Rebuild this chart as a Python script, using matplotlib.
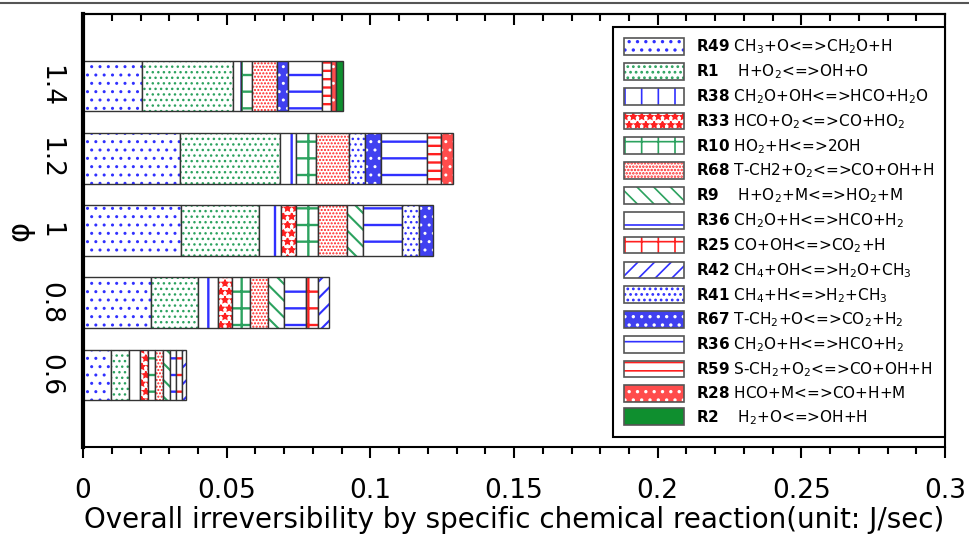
import numpy as np
import matplotlib.pyplot as plt
import matplotlib.patches as mpatches
from matplotlib.legend_handler import HandlerTuple

plt.rcParams['font.family'] = ['DejaVu Sans']
plt.rcParams['mathtext.fontset'] = 'dejavusans'
plt.rcParams['hatch.linewidth'] = 1.2

# equivalence ratio (bottom to top)
phi = ['0.6', '0.8', '1', '1.2', '1.4']

labels = [
    r"$\mathbf{R49}$ CH$_3$+O<=>CH$_2$O+H",
    r"$\mathbf{R1}$    H+O$_2$<=>OH+O",
    r"$\mathbf{R38}$ CH$_2$O+OH<=>HCO+H$_2$O",
    r"$\mathbf{R33}$ HCO+O$_2$<=>CO+HO$_2$",
    r"$\mathbf{R10}$ HO$_2$+H<=>2OH",
    r"$\mathbf{R68}$ T-CH2+O$_2$<=>CO+OH+H",
    r"$\mathbf{R9}$    H+O$_2$+M<=>HO$_2$+M",
    r"$\mathbf{R36}$ CH$_2$O+H<=>HCO+H$_2$",
    r"$\mathbf{R25}$ CO+OH<=>CO$_2$+H",
    r"$\mathbf{R42}$ CH$_4$+OH<=>H$_2$O+CH$_3$",
    r"$\mathbf{R41}$ CH$_4$+H<=>H$_2$+CH$_3$",
    r"$\mathbf{R67}$ T-CH$_2$+O<=>CO$_2$+H$_2$",
    r"$\mathbf{R36}$ CH$_2$O+H<=>HCO+H$_2$",
    r"$\mathbf{R59}$ S-CH$_2$+O$_2$<=>CO+OH+H",
    r"$\mathbf{R28}$ HCO+M<=>CO+H+M",
    r"$\mathbf{R2}$    H$_2$+O<=>OH+H",
]

# irreversibility (J/sec) per reaction, for phi = 0.6, 0.8, 1, 1.2, 1.4
values = [
    [0.0097, 0.0237, 0.0341, 0.0339, 0.0204],  # R49
    [0.0064, 0.0163, 0.0272, 0.0345, 0.0319],  # R1
    [0.0037, 0.0070, 0.0075, 0.0058, 0.0026],  # R38
    [0.0027, 0.0049, 0.0054, 0.0, 0.0],        # R33
    [0.0026, 0.0062, 0.0077, 0.0070, 0.0039],  # R10
    [0.0027, 0.0062, 0.0098, 0.0114, 0.0088],  # R68
    [0.0023, 0.0055, 0.0056, 0.0, 0.0],        # R9
    [0.0023, 0.0079, 0.0137, 0.0, 0.0],        # R36
    [0.0020, 0.0039, 0.0, 0.0, 0.0],           # R25
    [0.0015, 0.0041, 0.0, 0.0, 0.0],           # R42
    [0.0, 0.0, 0.0058, 0.0056, 0.0],           # R41
    [0.0, 0.0, 0.0050, 0.0055, 0.0037],        # R67
    [0.0, 0.0, 0.0, 0.0161, 0.0117],           # R36
    [0.0, 0.0, 0.0, 0.0047, 0.0033],           # R59
    [0.0, 0.0, 0.0, 0.0044, 0.0019],           # R28
    [0.0, 0.0, 0.0, 0.0, 0.0023],              # R2
]

blue = '#3030ff'
green = '#2ca25f'
red = '#ff2020'
# (face colour, hatch colour, hatch, hatch line width)
styles = [
    ('white', blue, '..', 1.0),
    ('white', green, '...', 1.0),
    ('white', blue, '|', 1.7),
    ('white', red, '**', 1.2),
    ('white', green, '+', 1.7),
    ('white', red, '.....', 1.0),
    ('white', green, '\\\\', 1.5),
    ('white', blue, '-', 1.7),
    ('white', red, '+', 1.7),
    ('white', blue, '//', 1.5),
    ('white', blue, '...', 1.0),
    ('#4040f0', 'white', '..', 1.0),
    ('white', blue, '-', 1.7),
    ('white', red, '--', 1.7),
    ('#ff4c4c', 'white', '..', 1.0),
    ('#0f8f2f', '#0f8f2f', '', 1.0),
]
border = '#333333'
per_patch_hlw = hasattr(mpatches.Patch, 'set_hatch_linewidth')


def hatch_kw(hlw):
    return {'hatch_linewidth': hlw} if per_patch_hlw else {}


fig = plt.figure(figsize=(9.7, 5.45), dpi=100)
ax = fig.add_axes([0.0856, 0.1798, 0.8887, 0.7945])

y = np.arange(1, len(phi) + 1)
left = np.zeros(len(phi))
handles = []
for vals, (fc, hc, h, hlw), lab in zip(values, styles, labels):
    vals = np.array(vals)
    m = vals > 0
    ax.barh(y[m], vals[m], left=left[m], height=0.7, color=fc,
            edgecolor=hc, hatch=h, linewidth=0, **hatch_kw(hlw))
    ax.barh(y[m], vals[m], left=left[m], height=0.7, fill=False,
            edgecolor=border, linewidth=1.0)
    left = left + vals
    handles.append((mpatches.Patch(facecolor=fc, edgecolor=hc, hatch=h, linewidth=0,
                                   **hatch_kw(hlw)),
                    mpatches.Patch(fill=False, edgecolor='#555555', linewidth=1.2)))

ax.set_xlim(0, 0.3)
ax.set_ylim(0, 6)
ax.set_xticks(np.arange(0, 0.301, 0.05))
ax.set_xticklabels(['0', '0.05', '0.1', '0.15', '0.2', '0.25', '0.3'], fontsize=19)
ax.set_xticks(np.arange(0, 0.301, 0.01), minor=True)
ax.tick_params(axis='x', which='major', direction='out', length=8, width=1.5, pad=14)
ax.tick_params(axis='x', which='minor', direction='out', length=5, width=1.5)
ax.set_yticks(y)
ax.set_yticklabels(phi, fontsize=19, rotation=-90, va='center')
ax.tick_params(axis='y', length=0, pad=14)

top = ax.secondary_xaxis('top')
top.set_xticks(np.arange(0, 0.301, 0.05))
top.set_xticks(np.arange(0, 0.301, 0.01), minor=True)
top.tick_params(which='major', direction='in', length=8, width=1.5, labeltop=False)
top.tick_params(which='minor', direction='in', length=5, width=1.5)
top.spines['top'].set_linewidth(1.5)

for s in ['top', 'right', 'bottom']:
    ax.spines[s].set_linewidth(1.5)
ax.spines['left'].set_linewidth(3)

ax.set_xlabel('Overall irreversibility by specific chemical reaction(unit: J/sec)',
              fontsize=20, labelpad=2)
ax.set_ylabel('φ', fontsize=22, labelpad=2)

leg = ax.legend(handles, labels, handler_map={tuple: HandlerTuple(ndivide=1, pad=0)},
                loc='upper right', bbox_to_anchor=(1.0, 0.97), borderaxespad=0,
                fontsize=11, handlelength=3.9, handleheight=1.3,
                labelspacing=0.4, handletextpad=0.8, borderpad=0.7,
                fancybox=False, framealpha=1)
leg.get_frame().set_edgecolor('black')
leg.get_frame().set_linewidth(1.5)

fig.add_artist(plt.Line2D([0, 1], [0.995, 0.995], color='#555555', lw=1.5,
                          transform=fig.transFigure))

plt.savefig('out.png', dpi=100)
